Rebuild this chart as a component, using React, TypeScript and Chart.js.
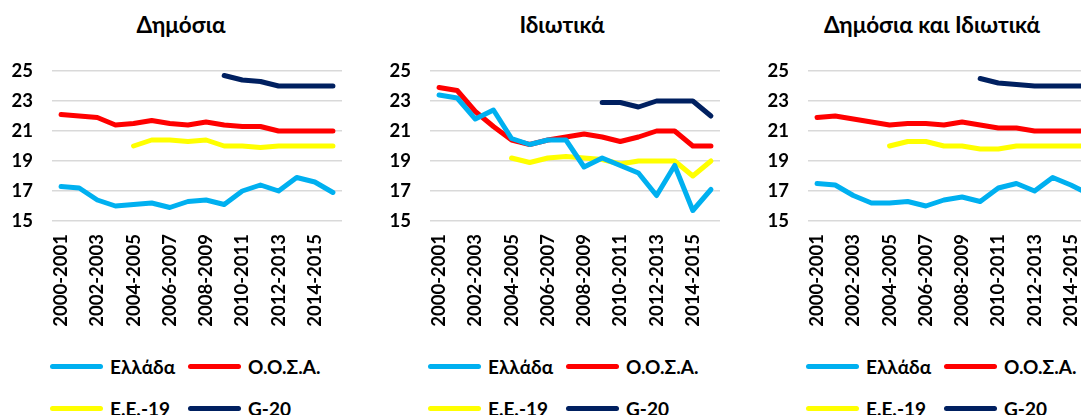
import React, { useEffect, useRef } from "react";
import { Chart, registerables } from "chart.js";

Chart.register(...registerables);

const categories = [
  "2000-2001", "2001-2002", "2002-2003", "2003-2004", "2004-2005", "2005-2006",
  "2006-2007", "2007-2008", "2008-2009", "2009-2010", "2010-2011", "2011-2012",
  "2012-2013", "2013-2014", "2014-2015", "2015-2016",
];
const yTickValues = [15, 17, 19, 21, 23, 25];
const seriesNames = ["Ελλάδα", "Ο.Ο.Σ.Α.", "Ε.Ε.-19", "G-20"];
const seriesColors = ["#00B0F0", "#FF0000", "#FFFF00", "#002060"];
const panelTitles = ["Δημόσια", "Ιδιωτικά", "Δημόσια και Ιδιωτικά"];

// Δημόσια
const publicGreece = [17.3, 17.2, 16.4, 16.0, 16.1, 16.2, 15.9, 16.3, 16.4, 16.1, 17.0, 17.4, 17.0, 17.9, 17.6, 16.9];
const publicOecd = [22.1, 22.0, 21.9, 21.4, 21.5, 21.7, 21.5, 21.4, 21.6, 21.4, 21.3, 21.3, 21.0, 21.0, 21.0, 21.0];
const publicEu19 = [null, null, null, null, 20.0, 20.4, 20.4, 20.3, 20.4, 20.0, 20.0, 19.9, 20.0, 20.0, 20.0, 20.0];
const publicG20 = [null, null, null, null, null, null, null, null, null, 24.7, 24.4, 24.3, 24.0, 24.0, 24.0, 24.0];

// Ιδιωτικά
const privateGreece = [23.4, 23.2, 21.8, 22.4, 20.5, 20.1, 20.4, 20.4, 18.6, 19.2, 18.7, 18.2, 16.7, 18.7, 15.7, 17.1];
const privateOecd = [23.9, 23.7, 22.3, 21.3, 20.4, 20.1, 20.4, 20.6, 20.8, 20.6, 20.3, 20.6, 21.0, 21.0, 20.0, 20.0];
const privateEu19 = [null, null, null, null, 19.2, 18.9, 19.2, 19.3, 19.2, 19.1, 18.8, 19.0, 19.0, 19.0, 18.0, 19.0];
const privateG20 = [null, null, null, null, null, null, null, null, null, 22.9, 22.9, 22.6, 23.0, 23.0, 23.0, 22.0];

// Δημόσια και Ιδιωτικά
const totalGreece = [17.5, 17.4, 16.7, 16.2, 16.2, 16.3, 16.0, 16.4, 16.6, 16.3, 17.2, 17.5, 17.0, 17.9, 17.4, 16.8];
const totalOecd = [21.9, 22.0, 21.8, 21.6, 21.4, 21.5, 21.5, 21.4, 21.6, 21.4, 21.2, 21.2, 21.0, 21.0, 21.0, 21.0];
const totalEu19 = [null, null, null, null, 20.0, 20.3, 20.3, 20.0, 20.0, 19.8, 19.8, 20.0, 20.0, 20.0, 20.0, 20.0];
const totalG20 = [null, null, null, null, null, null, null, null, null, 24.5, 24.2, 24.1, 24.0, 24.0, 24.0, 24.0];

const panelSeries = [
  [publicGreece, publicOecd, publicEu19, publicG20],
  [privateGreece, privateOecd, privateEu19, privateG20],
  [totalGreece, totalOecd, totalEu19, totalG20],
];

const FONT = "Lato, 'Noto Sans', sans-serif";
const PANEL_W = 378;
const CANVAS_H = 340;

function Panel({ index }: { index: number }) {
  const ref = useRef<HTMLCanvasElement | null>(null);
  useEffect(() => {
    if (!ref.current) return;
    const data = panelSeries[index];
    const chart = new Chart(ref.current, {
      type: "line",
      data: {
        labels: categories,
        datasets: data.map((d, i) => ({
          label: seriesNames[i],
          data: d as (number | null)[],
          borderColor: seriesColors[i],
          backgroundColor: seriesColors[i],
          borderWidth: 5,
          borderJoinStyle: "round" as const,
          borderCapStyle: "round" as const,
          pointRadius: 0,
          pointHoverRadius: 0,
          tension: 0,
          spanGaps: false,
        })),
      },
      options: {
        responsive: false,
        animation: false,
        layout: { padding: { top: 71, right: 36, left: 0, bottom: 0 } },
        plugins: {
          legend: { display: false },
          title: { display: false },
          tooltip: { enabled: false },
        },
        scales: {
          x: {
            type: "category",
            offset: true,
            grid: { display: false, drawTicks: false },
            border: { display: false },
            ticks: {
              autoSkip: false,
              maxRotation: 90,
              minRotation: 90,
              padding: 13,
              color: "#000",
              font: { family: FONT, size: 18.5, weight: "bold" },
              callback: (_v: any, idx: number) => (idx % 2 === 0 ? categories[idx] : ""),
            },
            afterFit: (s: any) => {
              s.height = 119;
            },
          },
          y: {
            min: yTickValues[0],
            max: yTickValues[yTickValues.length - 1],
            grid: { color: "#D9D9D9", lineWidth: 1.5, drawTicks: false },
            border: { display: false },
            ticks: {
              stepSize: 2,
              padding: 19,
              color: "#000",
              font: { family: FONT, size: 18.5, weight: "bold" },
            },
            afterFit: (s: any) => {
              s.width = 52;
            },
          },
        },
      },
    });
    return () => chart.destroy();
  }, [index]);

  const legendPos = [
    { left: 50, top: 366 },
    { left: 188, top: 366 },
    { left: 50, top: 408 },
    { left: 188, top: 408 },
  ];
  const titleCenters = [181, 184, 176];

  return (
    <div style={{ position: "absolute", left: index * PANEL_W, top: 0, width: PANEL_W, height: 415 }}>
      <div
        style={{
          position: "absolute",
          left: titleCenters[index],
          top: 24,
          transform: "translate(-50%, -50%)",
          whiteSpace: "nowrap",
          fontFamily: FONT,
          fontWeight: "bold",
          fontSize: 22.5,
          color: "#000",
        }}
      >
        {panelTitles[index]}
      </div>
      <canvas ref={ref} width={PANEL_W} height={CANVAS_H} style={{ position: "absolute", left: 0, top: 0 }} />
      {seriesNames.map((name, i) => (
        <div key={name} style={{ position: "absolute", left: legendPos[i].left, top: legendPos[i].top, height: 0 }}>
          <div
            style={{
              position: "absolute",
              left: 0,
              top: -2.5,
              width: 53,
              height: 5,
              borderRadius: 3,
              background: seriesColors[i],
            }}
          />
          <div
            style={{
              position: "absolute",
              left: 60,
              top: 0,
              transform: "translateY(-50%)",
              whiteSpace: "nowrap",
              fontFamily: FONT,
              fontWeight: "bold",
              fontSize: 19,
              color: "#000",
            }}
          >
            {name}
          </div>
        </div>
      ))}
    </div>
  );
}

export default function App() {
  return (
    <div style={{ position: "fixed", left: 0, top: 0, width: "100vw", height: "100vh", overflow: "hidden", background: "#fff" }}>
      {[0, 1, 2].map((i) => (
        <Panel key={i} index={i} />
      ))}
    </div>
  );
}
